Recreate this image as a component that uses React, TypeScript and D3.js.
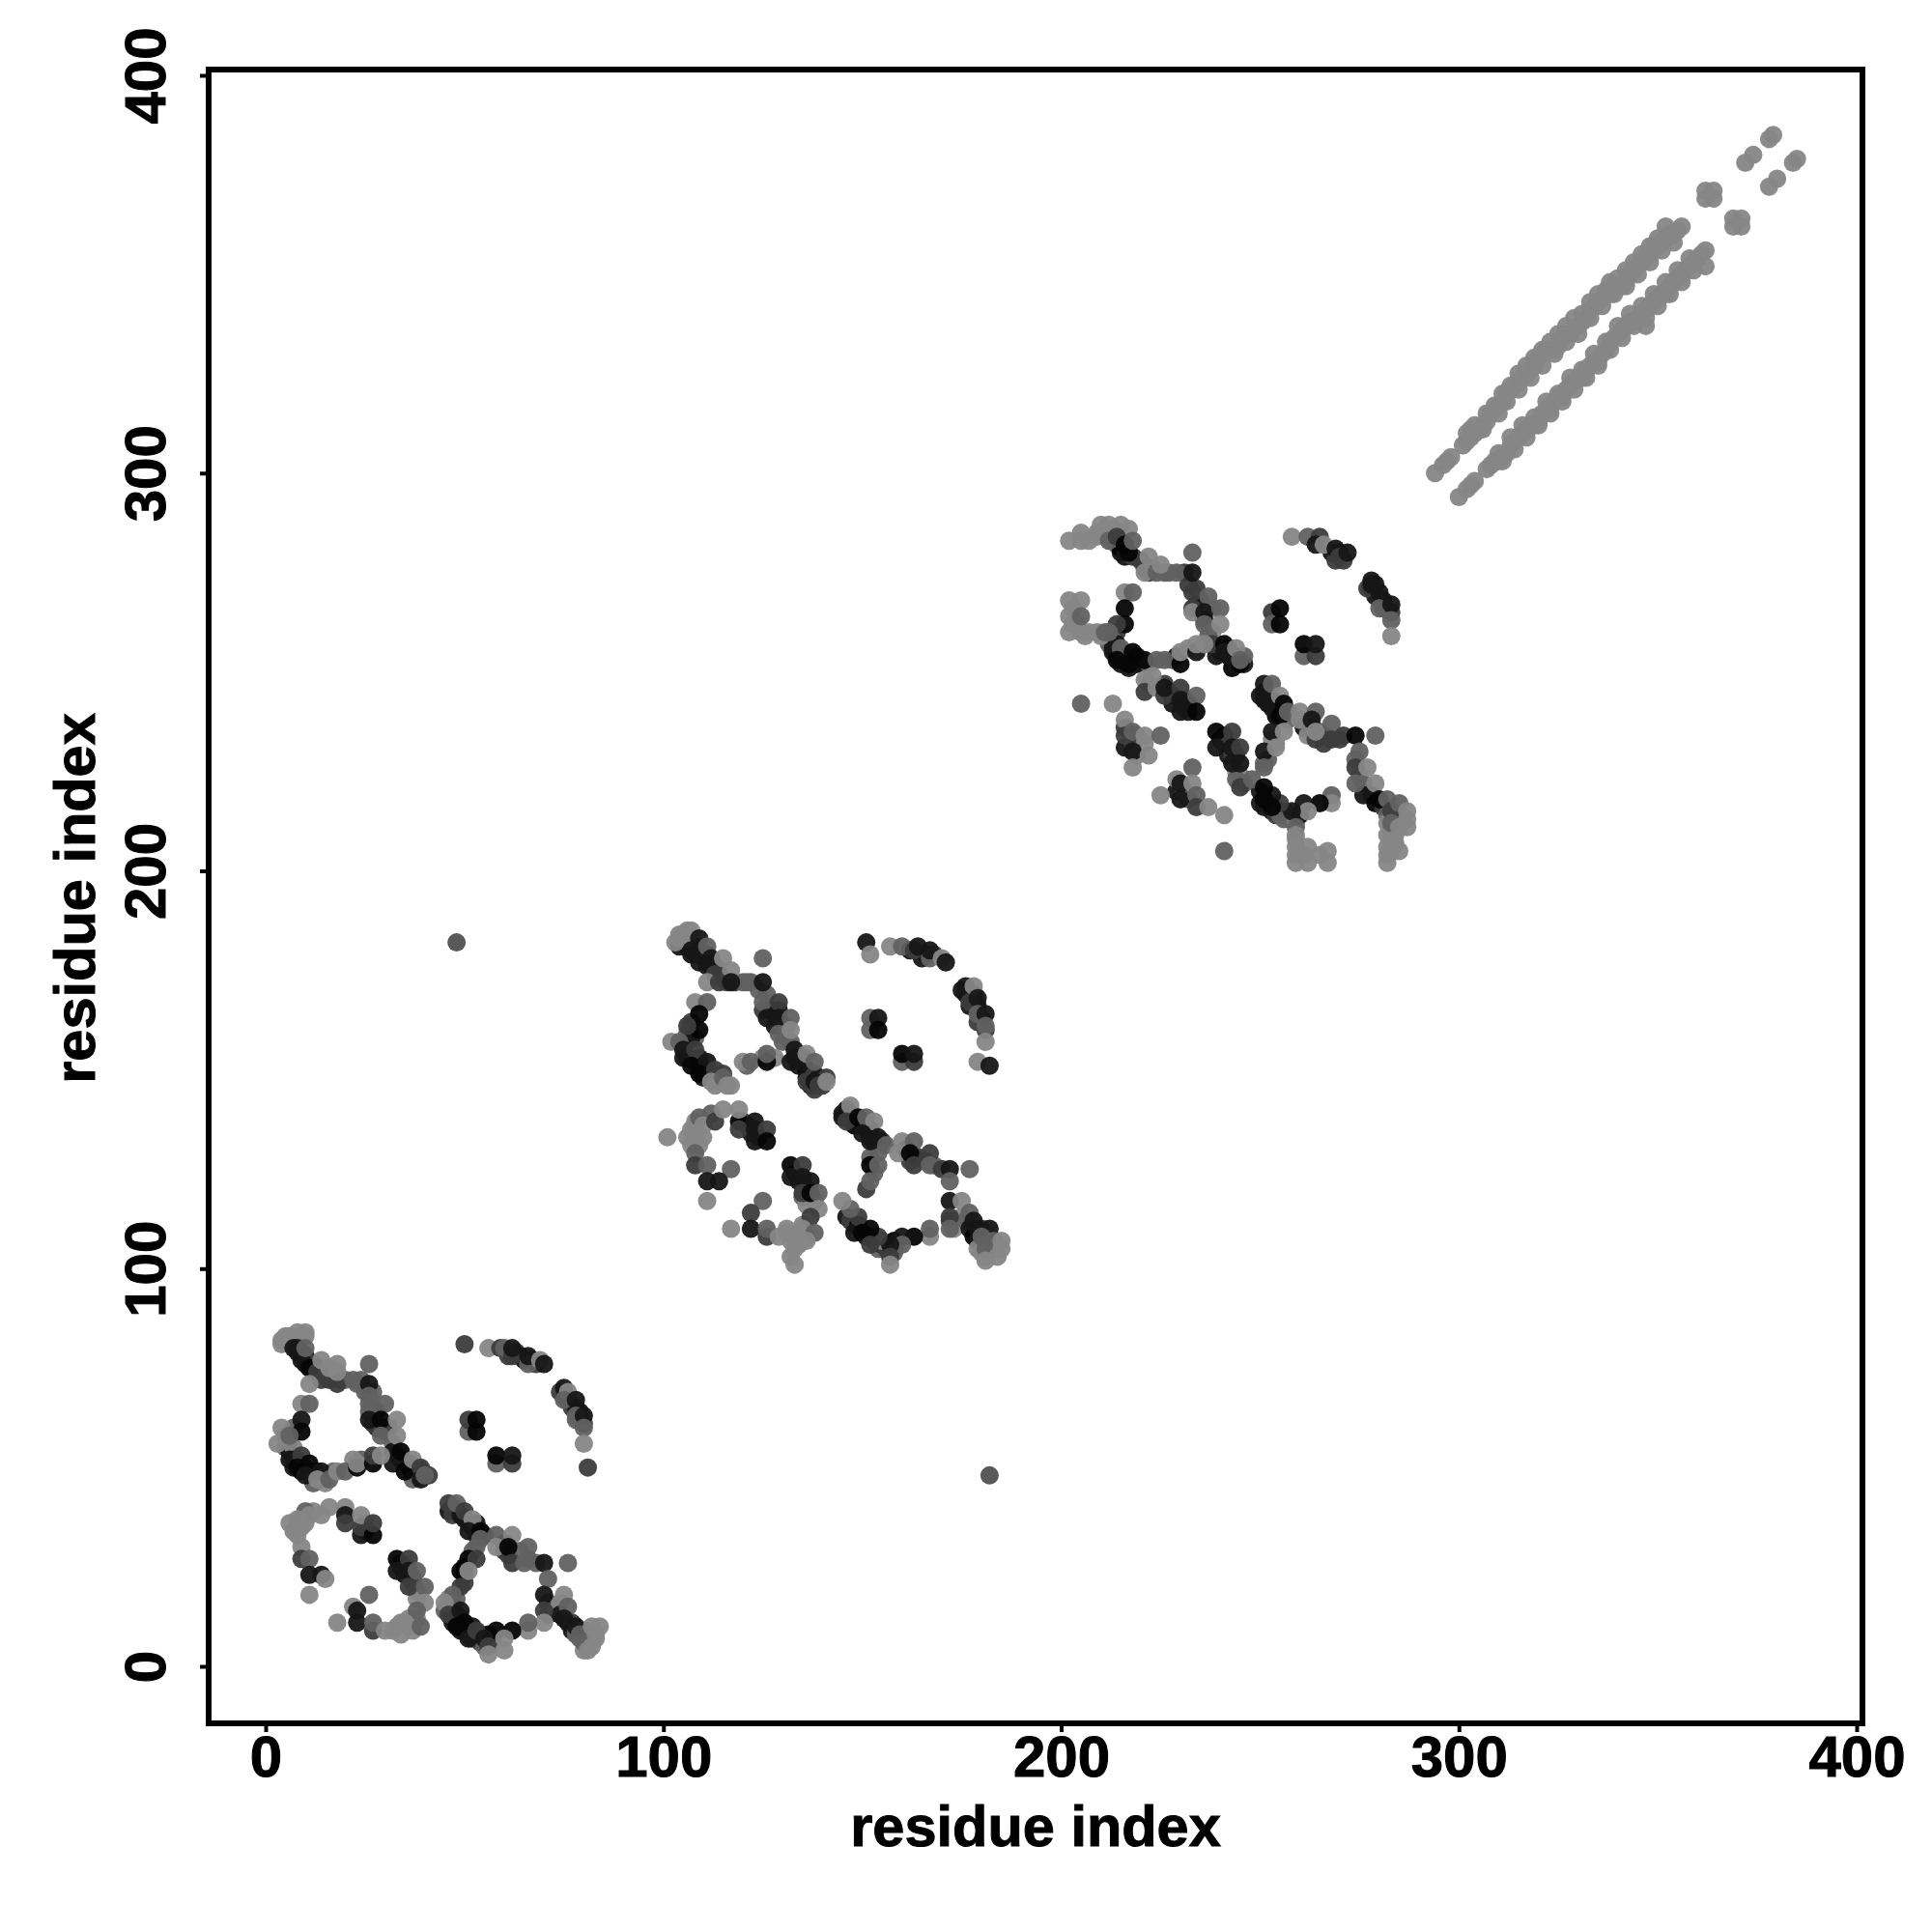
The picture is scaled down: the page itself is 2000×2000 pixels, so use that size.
import React, { useEffect, useRef } from "react"
import * as d3 from "d3"

type Contact = [number, number, number]

// grey levels
const L = 134
const M = 97
const D = 60
const K = 22
const B = 5

const xTicks = [0, 100, 200, 300, 400]
const yTicks = [0, 100, 200, 300, 400]

// packed dots along the strands, these sit underneath the block lists
const block1Fill: Contact[] = [
  [7,81,K],[8,79,K],[9,79,B],[10,78,K],[10,76,K],[12,76,D],[12,75,K],[13,75,K],[15,73,D],[16,72,D],[17,73,D],[19,72,D],[20,72,M],[23,71,M],[24,72,M],
  [25,69,M],[27,69,M],[27,65,M],[28,64,D],[26,64,M],[28,60,K],[30,60,K],[27,61,D],[31,60,M],[30,59,D],[32,56,M],[32,54,K],[33,53,K],[34,52,B],[36,51,K],[36,50,K],[37,49,K],[38,50,K],[38,48,D],[39,49,D],[41,48,D],[37,47,M],
  [7,60,M],[6,57,D],[5,55,M],[6,54,K],[7,55,L],[5,58,L],[7,52,K],[8,52,D],[9,51,K],[7,50,K],[9,49,B],[11,49,K],[12,48,K],[13,49,D],[14,48,K],[15,48,D],[17,49,M],[12,46,M],[15,46,L],[24,52,M],[22,52,L],
  [61,78,D],[63,79,D],[64,78,K],[65,77,K],[67,77,K],[68,76,D],[75,68,K],[74,69,D],[76,67,D],[77,65,D],[78,65,K],[79,64,K],[78,62,M],[80,61,D],
  [9,37,L],[8,35,L],[10,36,L],[12,39,L],[8,33,L],[6,36,L],[25,34,K],[25,36,L],[34,26,D],[34,25,K],[35,25,D],[35,23,K],[37,22,K],[37,21,D],[38,19,M],[38,17,L],[36,12,L],[33,10,L],[34,11,L],[32,9,L],[36,10,L],[38,12,L],
  [47,40,K],[46,39,K],[47,38,D],[49,38,K],[50,37,K],[51,36,K],[52,35,B],[53,36,K],[53,33,K],[55,33,K],[60,31,K],[60,29,D],[61,28,D],[64,29,M],[66,27,M],[68,26,M],[52,29,M],[53,30,M],[50,23,K],[50,25,B],[50,21,D],[48,17,M],[46,17,L],[47,15,D],[46,15,M],[45,14,M],
  [47,12,K],[48,13,K],[47,11,K],[49,12,K],[49,9,K],[50,9,K],[51,9,K],[52,10,K],[52,7,D],[54,8,K],[54,6,D],[55,5,M],[57,7,M],[56,8,B],[71,16,D],[71,13,M],[72,15,D],[73,14,L],[74,16,L],[74,13,K],[76,11,K],[77,11,D],[77,9,K],[78,9,D],[78,8,M],[79,7,M],[81,8,L],[80,9,L],[81,6,L],[80,4,L],[83,7,L],
]

const block1: Contact[] = [
  [4,82,L],[5,83,L],[4,81,L],[6,83,L],[8,84,L],[10,84,L],[10,83,L],[8,82,L],
  [7,80,K],[8,80,K],[9,77,K],[11,75,B],[10,80,M],[13,74,D],[14,72,D],[18,71,D],[14,77,L],[16,75,L],[18,76,L],[18,74,L],[11,71,L],
  [22,72,M],[26,76,M],[26,71,K],[26,68,M],[26,66,M],[30,66,M],[26,62,K],[29,62,B],[33,62,L],[29,58,M],[33,58,L],
  [32,51,K],[34,54,B],[35,49,B],[37,52,L],[39,50,D],[39,47,K],[40,48,M],
  [9,66,L],[11,66,M],[9,62,K],[9,59,B],[4,60,L],[3,56,L],[6,58,M],[6,52,K],[9,53,D],[8,50,B],[11,51,B],[10,48,K],[14,49,K],[13,47,L],[16,47,M],[18,49,L],[20,49,M],[23,50,B],[23,51,L],[27,51,B],[27,53,D],[29,53,L],
  [50,81,D],[56,80,L],[59,80,D],[60,80,M],[62,78,D],[62,80,K],[66,76,M],[66,78,K],[69,77,L],[70,76,K],
  [75,70,K],[76,69,L],[75,67,M],[78,67,K],[78,63,M],[80,63,K],[80,60,M],[80,56,L],[81,50,D],
  [51,59,M],[51,62,D],[53,62,B],[53,59,B],[58,51,M],[62,51,D],[58,53,B],[62,53,K],
  [10,39,M],[16,40,L],[20,40,L],[8,37,L],[11,38,L],[14,38,L],[7,34,L],[9,35,L],[9,30,L],[9,27,D],[11,27,M],[11,23,K],[14,23,K],[15,22,L],[11,18,L],
  [20,38,K],[20,36,D],[24,33,K],[24,35,D],[24,38,L],[27,33,B],[27,36,D],
  [33,27,B],[33,24,K],[36,27,D],[36,24,K],[38,24,M],[36,20,D],[40,20,M],[40,16,L],[38,14,M],
  [26,18,M],[22,15,L],[23,14,K],[23,11,K],[18,11,L],[27,9,D],[27,11,M],[30,9,L],[34,8,L],[37,9,L],[35,11,L],[39,10,M],
  [46,41,D],[48,41,M],[50,39,D],[52,37,L],[51,34,K],[54,34,B],[54,32,M],[58,33,M],[62,33,L],[58,30,L],[61,30,B],[66,30,M],[62,26,D],[65,26,M],[70,26,K],[76,26,M],
  [51,27,B],[53,27,D],[49,24,B],[51,24,L],[49,20,D],[47,18,M],[45,16,L],
  [71,22,M],[70,18,K],[75,18,L],[76,15,M],[70,14,D],[70,11,L],[66,9,L],[66,11,M],[62,9,B],[58,9,B],
  [46,13,D],[49,14,K],[50,11,B],[48,10,B],[51,7,K],[53,9,D],[55,7,K],[56,5,D],[56,3,L],[60,4,L],[60,7,L],
  [75,12,K],[78,10,K],[79,8,M],[80,6,M],[81,4,L],[82,5,L],[82,10,L],[84,10,L],[83,8,L],
]

const block2Fill: Contact[] = [
  [104,181,K],[106,181,K],[107,179,K],[108,181,B],[109,179,K],[110,178,D],[111,179,K],[112,176,K],[113,176,D],[114,174,K],[115,173,D],[116,172,D],[118,172,D],[120,172,M],[121,172,M],[124,170,M],[126,169,M],[125,165,D],[127,165,K],[129,165,K],[128,161,K],[130,161,D],[131,161,M],[130,157,M],[132,157,M],[133,153,K],[135,153,K],[134,151,K],[136,150,B],[137,149,K],[136,148,K],[138,149,D],[139,148,K],[137,146,K],[138,145,D],[140,146,D],[141,148,D],
  [107,162,D],[106,159,M],[108,158,M],[106,157,D],[107,158,K],[105,153,K],[106,153,K],[108,152,D],[109,153,K],[109,151,K],[110,150,B],[111,149,K],[112,149,D],[110,148,K],[114,147,M],[115,149,D],[113,146,L],[121,151,M],[120,152,L],[125,153,L],[128,153,L],
  [162,180,K],[165,178,K],[166,179,K],[168,179,D],[176,169,K],[175,170,K],[178,169,K],[177,166,K],[179,166,K],[179,162,D],[180,163,D],[181,160,D],
  [108,136,L],[107,131,L],[109,131,L],[110,133,L],[108,137,L],[112,139,M],[120,137,D],[121,136,K],[122,134,K],[124,133,K],[133,124,K],[134,122,K],[136,120,K],[135,118,M],[136,120,D],[138,117,M],[136,116,L],[135,111,L],[134,108,L],[132,107,L],[131,109,L],[134,106,L],[132,103,L],[136,108,L],[131,110,L],
  [146,140,K],[147,139,K],[145,138,K],[147,138,D],[148,136,B],[150,136,K],[151,135,K],[152,133,B],[152,135,K],[153,132,B],[155,132,D],[161,130,K],[163,128,K],[162,127,D],[164,128,D],[166,127,D],[168,126,M],[152,128,M],[154,129,M],[153,124,M],[151,120,D],
  [146,113,K],[147,112,D],[148,111,D],[149,111,B],[148,109,K],[151,108,K],[152,108,K],[153,107,K],[154,105,M],[155,106,K],[156,105,D],[155,107,L],[158,105,K],[158,107,B],[158,104,M],[172,112,D],[173,110,L],[175,113,L],[176,112,M],[177,110,K],[178,108,B],[179,107,K],[180,106,D],[181,107,M],[180,110,D],[183,105,M],[182,104,L],[182,108,L],[183,106,L],[181,103,L],[179,105,L],[180,104,L],
]

const block2: Contact[] = [
  [103,182,L],[104,184,L],[106,185,L],[107,185,L],[104,183,L],[106,183,L],
  [109,183,K],[107,180,K],[109,177,K],[111,181,M],[112,178,K],[111,176,K],[113,174,D],[115,178,L],[117,175,L],[111,172,L],[114,172,D],[117,172,K],
  [122,172,M],[125,178,M],[125,172,K],[125,167,M],[129,167,D],[126,163,K],[129,163,K],[132,163,M],[129,159,M],[132,160,L],
  [132,152,K],[135,152,K],[133,155,K],[136,154,L],[138,152,M],[136,147,D],[138,147,K],[139,146,D],[141,147,L],
  [108,167,L],[111,167,M],[109,164,B],[109,160,B],[106,161,D],[102,157,L],[104,157,M],[105,155,K],[108,155,D],[107,151,B],[111,152,K],[109,149,B],[113,150,D],[112,147,L],[115,148,M],[116,146,L],[117,146,L],
  [122,152,M],[126,152,B],[126,154,M],
  [151,182,K],[152,179,L],[157,181,L],[160,181,M],[163,180,D],[164,181,K],[167,178,M],[167,180,K],[170,178,L],[171,177,K],
  [176,171,K],[177,167,D],[178,171,L],[179,168,K],[179,164,M],[181,164,K],[181,161,M],[181,157,L],[179,152,L],[182,151,K],
  [152,163,M],[152,160,M],[154,163,K],[154,160,B],[160,152,M],[163,152,D],[160,154,B],[163,154,K],
  [101,133,L],[106,133,L],[107,135,L],[109,138,M],[110,136,L],[108,133,L],[113,137,D],[115,140,L],[119,137,B],[119,135,D],[119,140,L],
  [123,137,K],[123,135,K],[123,132,K],[126,135,D],[126,132,B],
  [108,129,M],[108,126,D],[111,126,M],[117,125,M],[111,122,K],[114,122,K],[111,117,L],
  [132,126,B],[135,126,D],[132,123,K],[135,123,K],[137,122,K],[135,119,D],[137,119,B],[139,119,M],[139,115,L],[137,113,D],
  [125,117,M],[122,114,D],[122,110,K],[117,110,L],[126,108,D],[126,110,M],[129,108,L],[133,108,L],[135,110,L],[138,109,M],[136,107,L],[133,105,L],[133,101,L],
  [145,139,K],[147,141,L],[146,137,D],[149,138,B],[151,138,M],[153,137,L],[150,134,K],[154,133,K],[152,132,K],[156,131,M],
  [160,132,L],[163,132,M],[159,129,L],[162,129,B],[167,129,D],[163,126,D],[167,126,M],[170,125,D],[172,125,K],[177,125,M],
  [152,126,B],[154,126,M],[152,122,M],[172,122,M],[172,117,K],[175,117,L],[172,113,D],[172,110,M],[177,114,M],
  [167,108,L],[167,110,M],[163,108,B],[160,108,K],[160,106,M],[157,106,K],[157,103,D],[157,101,L],[154,108,D],[152,110,B],[149,113,D],[147,115,M],[145,117,L],[150,109,B],[152,106,D],
  [178,112,K],[179,110,K],[182,110,K],[180,108,M],[181,105,M],[183,107,M],[185,107,L],[185,105,L],[184,103,L],[181,102,L],
]

const block3Fill: Contact[] = [
  [209,285,L],[211,285,L],[213,285,L],[213,286,L],[212,284,L],[214,282,M],[215,280,K],[215,281,B],[216,279,K],[218,279,D],[220,278,D],[221,276,D],[222,275,D],[223,276,D],[226,275,M],[227,275,M],[231,275,D],[232,272,D],[234,271,D],[235,268,M],[234,267,K],[233,266,D],[238,266,L],[236,263,K],[238,260,L],[237,259,M],[240,255,B],[239,254,K],[242,256,K],[243,253,K],[244,254,K],[243,251,B],[246,252,K],[244,252,K],[246,254,M],
  [213,259,D],[214,260,D],[213,258,M],[212,257,M],[214,257,K],[213,256,K],[214,254,K],[215,255,K],[216,254,B],[216,253,K],[218,253,B],[219,252,B],[219,254,K],[215,252,K],[217,251,K],[222,252,M],[228,253,M],[229,254,K],[232,256,L],
  [203,262,L],[204,262,L],[203,266,L],[207,260,L],[206,259,L],[210,259,L],
  [222,247,L],[221,248,L],[226,247,D],[227,245,K],[228,244,K],[228,242,K],[231,243,K],[232,242,K],[231,241,K],[232,240,K],
  [216,236,D],[219,234,D],[216,231,K],[218,232,D],[219,229,L],[221,232,L],[229,220,K],[231,220,M],[232,218,M],
  [240,233,K],[241,234,K],[241,232,D],[242,229,K],[244,229,K],[243,229,D],[244,225,L],[245,224,L],[244,223,M],[246,222,M],
  [251,247,K],[250,244,K],[252,244,K],[252,242,K],[253,243,B],[254,241,K],[254,239,B],[257,238,M],[256,240,L],[261,236,K],[262,236,D],[263,236,B],[262,234,L],[265,235,M],[266,234,D],[266,232,D],[270,233,D],[253,233,L],[254,232,L],[252,228,M],[251,227,M],[274,228,M],[275,224,L],[276,222,M],
  [250,220,K],[251,218,B],[250,217,K],[252,217,K],[251,216,K],[253,215,K],[254,214,D],[255,214,M],[256,215,D],[256,213,M],[258,213,M],[259,214,M],[259,212,L],[260,214,K],[259,208,L],[259,204,L],[261,204,L],[265,204,L],
  [276,219,K],[278,219,K],[279,217,B],[281,216,D],[282,214,M],[283,214,L],[282,212,L],[283,210,L],[282,209,L],[284,209,L],[285,214,L],[284,213,L],[282,206,L],[283,207,L],[284,207,L],[282,204,L],
  [268,280,K],[270,280,K],[271,278,D],[269,278,D],[278,271,K],[279,269,K],[279,272,K],[277,271,D],[281,268,K],[281,266,D],[283,265,D],
]

const block3: Contact[] = [
  [202,283,L],[205,285,L],[205,283,L],[207,283,L],[209,284,L],[210,287,L],[212,287,L],[215,287,L],[217,286,L],
  [212,283,M],[214,284,D],[216,282,B],[217,280,B],[218,283,M],[221,277,D],[222,279,L],[221,275,L],[224,275,M],[225,277,L],[229,275,M],
  [233,280,M],[233,275,K],[233,270,D],[237,269,M],[233,265,L],[236,265,K],[240,266,M],[236,262,M],[240,262,L],
  [238,257,D],[241,257,B],[241,255,K],[242,254,K],[244,256,L],[245,252,B],[245,253,M],
  [216,270,L],[218,270,M],[216,266,B],[216,262,B],[214,262,D],[212,260,M],[213,255,K],[215,256,M],[218,255,B],[214,253,B],[217,252,B],[221,253,B],[224,253,M],[226,253,M],[230,252,B],[230,255,L],[234,255,K],[234,257,L],[236,257,L],
  [202,268,L],[205,268,L],[202,264,L],[202,260,L],[205,260,L],[205,264,M],[209,260,L],[211,260,M],
  [221,245,D],[223,249,L],[224,246,L],[226,244,D],[226,246,K],[230,246,D],[230,243,K],[234,244,M],[230,240,K],[234,240,B],
  [205,242,M],[213,242,L],[216,238,L],[216,234,D],[218,235,M],[221,234,L],[225,234,M],[218,230,K],[222,229,L],[218,226,L],
  [233,226,M],[229,223,L],[230,222,K],[233,222,L],[230,218,K],[225,219,L],[234,219,M],[234,216,D],[237,216,L],[241,214,L],[241,205,M],
  [239,235,B],[243,235,D],[239,231,K],[243,231,K],[245,231,D],[243,227,K],[245,227,K],[245,221,D],[248,223,M],
  [251,245,K],[251,243,K],[253,247,M],[253,241,K],[255,239,B],[255,244,L],[256,242,B],[257,240,M],[260,240,L],[264,240,M],[260,238,L],[263,238,K],[264,233,D],[264,235,L],[268,237,M],[268,233,D],[271,234,D],[274,234,B],[279,234,M],
  [253,235,K],[256,235,L],[251,230,K],[254,231,L],[251,226,M],[275,230,M],[274,226,D],[277,226,L],[274,222,M],[279,222,L],
  [268,219,M],[268,217,L],[265,217,B],[261,217,K],[262,215,L],[258,215,K],[255,217,D],[253,219,K],[251,221,B],[251,218,B],[253,216,B],
  [259,211,M],[259,209,L],[259,206,L],[259,202,L],[262,206,L],[262,202,L],[267,205,L],[267,202,L],[282,202,L],[283,205,L],[285,205,L],[283,208,L],
  [280,218,B],[282,218,M],[283,215,D],[283,212,M],[285,217,M],[287,215,L],[287,213,L],[287,211,L],[285,211,L],
  [258,284,L],[262,284,M],[265,284,D],[264,282,K],[266,282,L],[269,281,K],[270,279,D],[272,280,K],
  [278,273,K],[278,272,K],[280,270,K],[280,266,M],[283,267,K],[283,263,M],[283,259,L],
  [253,265,D],[253,262,M],[255,266,B],[255,262,B],[261,254,M],[264,254,D],[261,257,B],[264,257,K],
]

const stripUpper: [number, number][] = [
  [294,300],[296,302],[297,303],[298,304],
  [301,307],[302,308],[302,310],[303,311],[304,312],[306,312],[307,313],[308,315],[309,316],[310,317],[311,318],[312,320],[313,321],[314,322],[315,323],[316,324],[317,325],[318,326],[319,327],[320,329],[321,330],[322,331],[324,331],[325,332],[326,334],[327,335],[328,335],[330,337],
  [331,338],[332,339],[333,341],[334,342],[335,343],[336,344],[337,346],[338,345],[339,347],[341,347],[342,348],[343,350],[344,351],[345,352],[346,353],[347,354],[348,355],[349,357],[350,357],[351,358],[352,359],[352,362],[353,360],[354,360],[355,361],[356,362],
  [303,309],[305,311],[307,315],[309,317],[311,320],[313,322],[315,325],[317,327],[319,329],[321,331],[323,333],[325,335],[327,337],[329,339],[331,340],[333,343],[335,345],[338,348],[340,349],[342,351],[344,353],[346,355],[348,357],[350,359],
  [304,310],[306,311],[310,315],[312,318],[315,321],[318,324],[321,327],[324,330],[327,333],[330,335],[333,339],[336,342],[339,345],[342,347],[345,350],[348,353],[351,356],[354,358],
]
const stripLower: [number, number][] = [
  [300,294],[302,296],[303,297],[304,298],
  [307,301],[308,302],[309,303],[310,303],[311,304],[312,305],[313,307],[314,308],[315,309],[316,310],[317,311],[318,312],[319,312],[320,313],[321,315],[322,316],[323,316],[324,318],[325,319],[326,319],[327,321],[328,322],[329,323],[330,324],[331,324],[332,326],[333,327],[334,328],[335,328],
  [336,330],[337,331],[338,333],[339,334],[340,335],[341,336],[342,337],[343,338],[344,338],[345,339],[346,340],[347,341],[347,337],[348,342],[349,343],[350,344],[351,345],[352,345],[353,347],[354,348],[355,349],[356,350],[357,351],[358,352],[359,353],[360,354],[361,355],[362,356],[362,352],
  [310,305],[313,309],[316,312],[319,314],[322,318],[325,320],[328,324],[331,326],[334,330],[337,333],[340,337],[343,340],[346,342],[349,345],[352,348],[355,351],[358,354],
  [311,303],[314,306],[317,309],[320,312],[323,315],[326,318],[329,321],[332,324],[335,327],[338,331],[341,334],[344,337],[347,339],[350,342],[353,345],[356,348],[359,351],
]
const stripEnd: [number, number][] = [
  [362,369],[362,371],[364,369],[364,371],[369,362],[369,364],[371,362],[371,364],[378,384],[379,385],[372,378],[374,380],[384,378],[385,379],[378,372],[380,374],
]
const strays: Contact[] = [[48,182,80],[182,48,80]]

export default function App() {
  const svgRef = useRef<SVGSVGElement>(null)

  useEffect(() => {
    if (!svgRef.current) return
    const svg = d3.select(svgRef.current)
    svg.selectAll("*").remove()

    const x = d3.scaleLinear().domain([0, 400]).range([275, 1922])
    const y = d3.scaleLinear().domain([0, 400]).range([1725, 78])

    const contacts: Contact[] = [
      ...block1Fill,
      ...block1,
      ...block2Fill,
      ...block2,
      ...block3Fill,
      ...block3,
      ...[...stripUpper, ...stripLower, ...stripEnd].map(d => [d[0], d[1], L] as Contact),
      ...strays,
    ]

    svg
      .append("g")
      .selectAll("circle")
      .data(contacts)
      .enter()
      .append("circle")
      .attr("cx", d => x(d[0]))
      .attr("cy", d => y(d[1]))
      .attr("r", 9.5)
      .attr("fill", d => d3.rgb(d[2], d[2], d[2]).toString())
      .attr("fill-opacity", 0.95)

    // Frame
    svg
      .append("rect")
      .attr("x", 216)
      .attr("y", 72)
      .attr("width", 1712)
      .attr("height", 1712)
      .attr("fill", "none")
      .attr("stroke", "#000")
      .attr("stroke-width", 6)

    // Axes
    const xAxis = svg
      .append("g")
      .attr("transform", "translate(0,1784)")
      .call(d3.axisBottom(x).tickValues(xTicks).tickFormat(d3.format("d")).tickSize(9).tickPadding(2))
    const yAxis = svg
      .append("g")
      .attr("transform", "translate(216,0)")
      .call(d3.axisLeft(y).tickValues(yTicks).tickFormat(d3.format("d")).tickSize(9).tickPadding(2))

    xAxis.select(".domain").remove()
    yAxis.select(".domain").remove()
    xAxis.selectAll("line").attr("stroke", "#000").attr("stroke-width", 4)
    yAxis.selectAll("line").attr("stroke", "#000").attr("stroke-width", 4)

    xAxis
      .selectAll("text")
      .attr("font-family", "Liberation Sans")
      .attr("font-weight", "bold")
      .attr("font-size", 60)
      .attr("fill", "#000")
      .attr("stroke", "#000")
      .attr("stroke-width", 1)
      .attr("y", 55)
      .attr("dy", 0)

    yAxis
      .selectAll("text")
      .attr("font-family", "Liberation Sans")
      .attr("font-weight", "bold")
      .attr("font-size", 60)
      .attr("fill", "#000")
      .attr("stroke", "#000")
      .attr("stroke-width", 1)
      .attr("x", 0)
      .attr("dy", 0)
      .attr("text-anchor", "middle")
      .attr("transform", "translate(-45,0) rotate(-90)")

    // Axis titles
    svg
      .append("text")
      .attr("x", 1072)
      .attr("y", 1911)
      .attr("text-anchor", "middle")
      .attr("font-family", "Liberation Sans")
      .attr("font-weight", "bold")
      .attr("font-size", 59.5)
      .attr("stroke", "#000")
      .attr("stroke-width", 1)
      .text("residue index")

    svg
      .append("text")
      .attr("transform", "translate(98,930) rotate(-90)")
      .attr("text-anchor", "middle")
      .attr("font-family", "Liberation Sans")
      .attr("font-weight", "bold")
      .attr("font-size", 59.5)
      .attr("stroke", "#000")
      .attr("stroke-width", 1)
      .text("residue index")
  }, [])

  return (
    <svg
      ref={svgRef}
      width={2000}
      height={2000}
      style={{ position: "absolute", left: 0, top: 0, background: "#fff" }}
    />
  )
}
